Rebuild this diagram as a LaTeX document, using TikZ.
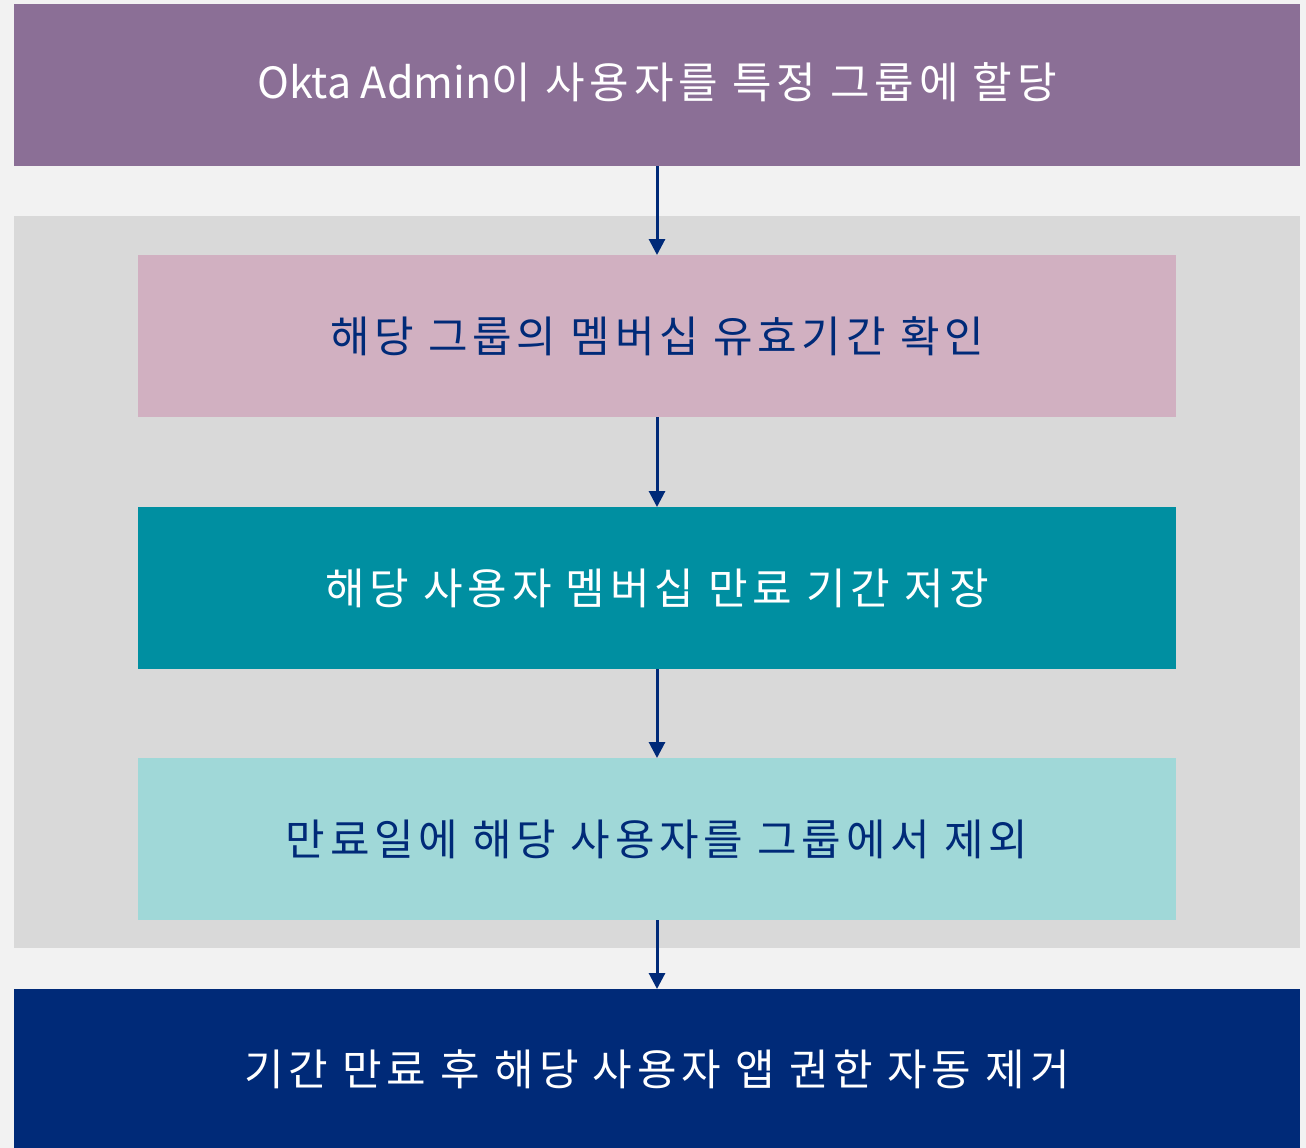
\documentclass[tikz,border=0pt]{standalone}
\usepackage{fontspec}
\setmainfont[LetterSpace=11]{Noto Sans CJK KR}
\newfontfamily\latinf{Noto Sans CJK KR}
\usetikzlibrary{arrows.meta}
\definecolor{bgc}{HTML}{F2F2F2}
\definecolor{grpc}{HTML}{D9D9D9}
\definecolor{purp}{HTML}{8B6F96}
\definecolor{pinkc}{HTML}{D1B0C1}
\definecolor{tealc}{HTML}{008FA1}
\definecolor{ltealc}{HTML}{A0D8D8}
\definecolor{navyc}{HTML}{002A78}
\tikzset{
  box/.style={rectangle, inner sep=0pt, outer sep=0pt, font=\fontsize{43}{48}\selectfont},
  wide/.style={box, minimum width=1286pt, minimum height=162pt},
  inner/.style={box, minimum width=1038pt, minimum height=162pt},
  conn/.style={navyc, line width=3pt, -{Triangle[length=16pt,width=16pt]}}
}
\begin{document}
\begin{tikzpicture}[x=1pt,y=-1pt]
\useasboundingbox (0,0) rectangle (1306,1148);
\fill[bgc] (0,0) rectangle (1306,1148);
\node[rectangle, fill=grpc, minimum width=1286pt, minimum height=732pt, inner sep=0pt, anchor=north west] (grp) at (14,216) {};
\node[wide, fill=purp, anchor=north west] (a) at (14,4) {};
\node[box, text=white] (at) at (657,82) {{\latinf Okta Admin}이 사용자를 특정 그룹에 할당};
\node[inner, fill=pinkc, text=navyc, anchor=north west] (b) at (138,255) {해당 그룹의 멤버십 유효기간 확인};
\node[inner, fill=tealc, text=white, anchor=north west] (c) at (138,507) {해당 사용자 멤버십 만료 기간 저장};
\node[inner, fill=ltealc, text=navyc, anchor=north west] (d) at (138,758) {만료일에 해당 사용자를 그룹에서 제외};
\node[box, fill=navyc, minimum width=1286pt, minimum height=180pt, anchor=north west] (e) at (14,989) {};
\node[box, text=white] (et) at (657,1069) {기간 만료 후 해당 사용자 앱 권한 자동 제거};
\draw[conn] (a.south -| 657,0) -- (b.north -| 657,0);
\draw[conn] (b.south -| 657,0) -- (c.north -| 657,0);
\draw[conn] (c.south -| 657,0) -- (d.north -| 657,0);
\draw[conn] (d.south -| 657,0) -- (e.north -| 657,0);
\end{tikzpicture}
\end{document}
